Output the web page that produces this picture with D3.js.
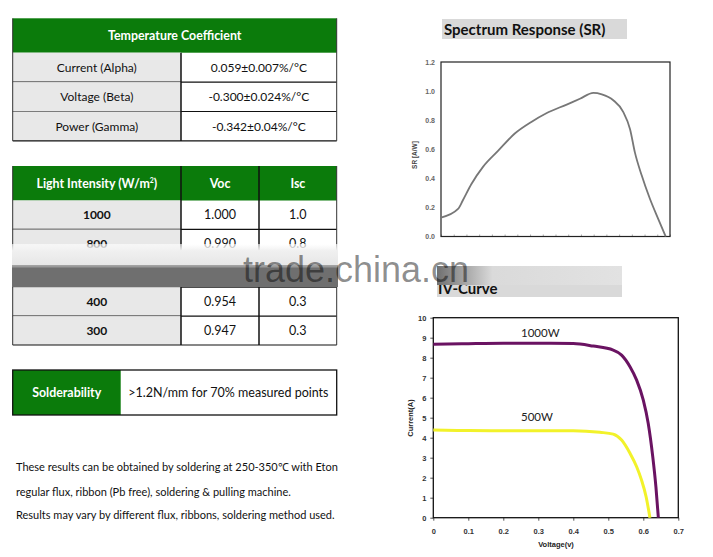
<!DOCTYPE html>
<html><head><meta charset="utf-8">
<script src="https://cdn.jsdelivr.net/npm/d3@7"></script>
<style>
html,body{margin:0;padding:0;background:#fff;}
svg{display:block;font-family:Lato, "Open Sans", sans-serif;}
</style></head>
<body>
<svg id="c" width="713" height="557"></svg>
<script>
// ---------- DATA ----------
const tcTitle = "Temperature Coefficient";
const tcNames = ["Current (Alpha)", "Voltage (Beta)", "Power (Gamma)"];
const tcValues = ["0.059±0.007%/°C", "-0.300±0.024%/°C", "-0.342±0.04%/°C"];

const liHeaders = ["Light Intensity (W/m", "Voc", "Isc"];
const liIntensity = ["1000", "800", "", "400", "300"];
const liVoc = ["1.000", "0.990", "", "0.954", "0.947"];
const liIsc = ["1.0", "0.8", "", "0.3", "0.3"];

const solderLabel = "Solderability";
const solderValue = ">1.2N/mm for 70% measured points";
const notes = [
  "These results can be obtained by soldering at 250-350\u2103 with Eton",
  "regular flux, ribbon (Pb free), soldering & pulling machine.",
  "Results may vary by different flux, ribbons, soldering method used."
];

const srTitle = "Spectrum Response (SR)";
const srWave = [300, 367, 386, 419, 465, 524, 590, 655, 714, 794, 846, 899, 932, 977, 1016, 1043, 1062, 1089, 1121, 1154, 1183];
const srValue = [0.13, 0.19, 0.25, 0.36, 0.48, 0.59, 0.71, 0.79, 0.85, 0.91, 0.95, 0.99, 0.98, 0.94, 0.86, 0.74, 0.58, 0.42, 0.26, 0.12, 0.0];
const srYTicks = [0, 0.2, 0.4, 0.6, 0.8, 1.0, 1.2];

const ivTitle = "IV-Curve";
const ivSeries = ["1000W", "500W"];
const v1000 = [0, 0.1, 0.2, 0.3, 0.4, 0.457, 0.514, 0.538, 0.562, 0.581, 0.600, 0.614, 0.627, 0.636, 0.643];
const i1000 = [8.67, 8.70, 8.72, 8.72, 8.71, 8.58, 8.38, 8.13, 7.55, 6.88, 5.88, 4.72, 3.05, 1.55, 0];
const v500 = [0, 0.1, 0.2, 0.3, 0.4, 0.476, 0.514, 0.538, 0.562, 0.581, 0.595, 0.608, 0.619];
const i500 = [4.38, 4.36, 4.35, 4.35, 4.35, 4.27, 4.18, 3.88, 3.22, 2.55, 1.88, 1.05, 0];
const ivXTicks = [0, 0.1, 0.2, 0.3, 0.4, 0.5, 0.6, 0.7];
const ivYTicks = [0, 1, 2, 3, 4, 5, 6, 7, 8, 9, 10];

const watermark = "trade.china.cn";

// ---------- DRAW ----------
const svg = d3.select("#c");
const GREEN = "#0b7b0b", LIGHT = "#e8e8e8";
const TL = 12.7, TR = 336.7;

// Table 1
{
  const top = 18.3, headH = 34.4, rowH = 29.4, split = 181;
  const g = svg.append("g");
  g.append("rect").attr("x", TL).attr("y", top).attr("width", TR - TL).attr("height", headH).attr("fill", GREEN);
  g.append("text").attr("x", (TL + TR) / 2).attr("y", top + headH / 2 + 4.5).attr("text-anchor", "middle")
    .attr("fill", "#fff").attr("font-weight", "bold").attr("font-size", 12.4).text(tcTitle);
  const y0 = top + headH;
  tcNames.forEach((n, i) => {
    const y = y0 + i * rowH;
    g.append("rect").attr("x", TL).attr("y", y).attr("width", split - TL).attr("height", rowH).attr("fill", LIGHT);
    g.append("text").attr("x", (TL + split) / 2).attr("y", y + rowH / 2 + 4.5).attr("text-anchor", "middle")
      .attr("font-size", 12).attr("fill", "#111").text(n);
    g.append("text").attr("x", (split + TR) / 2).attr("y", y + rowH / 2 + 4.5).attr("text-anchor", "middle")
      .attr("font-size", 12).attr("fill", "#111").text(tcValues[i]);
    g.append("line").attr("x1", TL).attr("x2", TR).attr("y1", y + rowH).attr("y2", y + rowH).attr("stroke", "#111").attr("stroke-width", 1.2);
  });
  const bot = y0 + tcNames.length * rowH;
  g.append("line").attr("x1", split).attr("x2", split).attr("y1", y0).attr("y2", bot).attr("stroke", "#111").attr("stroke-width", 1.5);
  g.append("line").attr("x1", TL).attr("x2", TL).attr("y1", top).attr("y2", bot).attr("stroke", "#333").attr("stroke-width", 1);
  g.append("line").attr("x1", TR).attr("x2", TR).attr("y1", top).attr("y2", bot).attr("stroke", "#333").attr("stroke-width", 1);
}

// Table 2
{
  const top = 166, headH = 34.5, rowH = 28.9, s1 = 181, s2 = 259;
  const g = svg.append("g");
  g.append("rect").attr("x", TL).attr("y", top).attr("width", TR - TL).attr("height", headH).attr("fill", GREEN);
  const hc = [(TL + s1) / 2, (s1 + s2) / 2, (s2 + TR) / 2];
  liHeaders.forEach((h, i) => {
    const t = g.append("text").attr("x", hc[i]).attr("y", top + headH / 2 + 4.5).attr("text-anchor", "middle")
      .attr("fill", "#fff").attr("font-weight", "bold").attr("font-size", 12.4).text(h);
    if (i === 0) { t.append("tspan").attr("font-size", 7).attr("dy", -5).text("2"); t.append("tspan").attr("dy", 5).text(")"); }
  });
  const y0 = top + headH;
  liIntensity.forEach((n, i) => {
    const y = y0 + i * rowH;
    g.append("rect").attr("x", TL).attr("y", y).attr("width", s1 - TL).attr("height", rowH).attr("fill", LIGHT);
    g.append("text").attr("x", hc[0]).attr("y", y + rowH / 2 + 4.5).attr("text-anchor", "middle")
      .attr("font-size", 12).attr("font-weight", "bold").attr("fill", "#111").text(n);
    g.append("text").attr("x", hc[1]).attr("y", y + rowH / 2 + 4.5).attr("text-anchor", "middle")
      .attr("font-size", 12.5).attr("fill", "#111").text(liVoc[i]);
    g.append("text").attr("x", hc[2]).attr("y", y + rowH / 2 + 4.5).attr("text-anchor", "middle")
      .attr("font-size", 12.5).attr("fill", "#111").text(liIsc[i]);
    g.append("line").attr("x1", TL).attr("x2", TR).attr("y1", y + rowH).attr("y2", y + rowH).attr("stroke", "#111").attr("stroke-width", 1.2);
  });
  const bot = y0 + liIntensity.length * rowH;
  [s1, s2].forEach(s => g.append("line").attr("x1", s).attr("x2", s).attr("y1", top).attr("y2", bot).attr("stroke", "#111").attr("stroke-width", 1.5));
  g.append("line").attr("x1", TL).attr("x2", TL).attr("y1", top).attr("y2", bot).attr("stroke", "#333");
  g.append("line").attr("x1", TR).attr("x2", TR).attr("y1", top).attr("y2", bot).attr("stroke", "#333");
}

// Solderability
{
  const top = 370, h = 45, split = 120.7;
  const g = svg.append("g");
  g.append("rect").attr("x", TL).attr("y", top).attr("width", split - TL).attr("height", h).attr("fill", GREEN);
  g.append("rect").attr("x", TL).attr("y", top).attr("width", TR - TL).attr("height", h).attr("fill", "none").attr("stroke", "#111").attr("stroke-width", 1.3);
  g.append("text").attr("x", (TL + split) / 2).attr("y", top + h / 2 + 4.5).attr("text-anchor", "middle")
    .attr("fill", "#fff").attr("font-weight", "bold").attr("font-size", 12.4).text(solderLabel);
  g.append("text").attr("x", 128.3).attr("y", top + h / 2 + 4.5).attr("font-size", 12.5).attr("fill", "#111").text(solderValue);
  const ny = [470.5, 495.5, 519];
  notes.forEach((t, i) => g.append("text").attr("x", 16).attr("y", ny[i]).attr("font-size", 11).attr("fill", "#111").text(t));
}

// SR chart
{
  const g = svg.append("g");
  g.append("rect").attr("x", 442).attr("y", 19).attr("width", 185).attr("height", 20).attr("fill", "#d9d9d9");
  g.append("text").attr("x", 444).attr("y", 35).attr("font-weight", "bold").attr("font-size", 15).attr("fill", "#111").text(srTitle);
  const x = d3.scaleLinear().domain([300, 1200]).range([441, 670]);
  const y = d3.scaleLinear().domain([0, 1.2]).range([236.5, 62.5]);
  const xa = g.append("g").attr("transform", "translate(0,236.5)")
    .call(d3.axisBottom(x).tickValues(d3.range(300, 1201, 50)).tickSize(-2).tickFormat(""));
  xa.select(".domain").remove();
  xa.selectAll("line").attr("stroke", "#aaa");
  const ya = g.append("g").attr("transform", "translate(441,0)")
    .call(d3.axisLeft(y).tickValues(srYTicks).tickSize(0).tickPadding(6).tickFormat(d3.format(".1f")));
  ya.select(".domain").remove();
  ya.selectAll("text").attr("font-size", 7).attr("font-weight", "bold").attr("fill", "#666").attr("font-family", "Liberation Sans, Arial, sans-serif");
  g.append("rect").attr("x", 441).attr("y", 62).attr("width", 229).attr("height", 174.5).attr("fill", "none").attr("stroke", "#222").attr("stroke-width", 1.2);
  g.append("text").attr("transform", "translate(417,155) rotate(-90)").attr("text-anchor", "middle")
    .attr("font-size", 6.5).attr("font-weight", "bold").attr("fill", "#444").attr("font-family", "Liberation Sans, Arial, sans-serif").text("SR [A/W]");
  const pts = srWave.map((w, i) => [w, srValue[i]]);
  g.append("path").datum(pts).attr("fill", "none").attr("stroke", "#777").attr("stroke-width", 1.8)
    .attr("d", d3.line().x(d => x(d[0])).y(d => y(d[1])).curve(d3.curveMonotoneX));
}

// IV chart
{
  const g = svg.append("g");
  g.append("rect").attr("x", 437).attr("y", 267).attr("width", 185).attr("height", 30).attr("fill", "#d9d9d9");
  g.append("text").attr("x", 438).attr("y", 294).attr("font-weight", "bold").attr("font-size", 15).attr("fill", "#111").text(ivTitle);
  const x = d3.scaleLinear().domain([0, 0.7]).range([433.3, 678.3]);
  const y = d3.scaleLinear().domain([0, 10]).range([517.7, 317.7]);
  const xa = g.append("g").attr("transform", "translate(0,517.7)")
    .call(d3.axisBottom(x).tickValues(ivXTicks).tickSize(3).tickPadding(8).tickFormat(d => d === 0 ? "0" : d3.format(".1f")(d)));
  xa.select(".domain").remove();
  const ya = g.append("g").attr("transform", "translate(433.3,0)")
    .call(d3.axisLeft(y).tickValues(ivYTicks).tickSize(3).tickPadding(4));
  ya.select(".domain").remove();
  [xa, ya].forEach(a => {
    a.selectAll("text").attr("font-size", 7.5).attr("font-weight", "bold").attr("fill", "#333").attr("font-family", "Liberation Sans, Arial, sans-serif");
    a.selectAll("line").attr("stroke", "#555");
  });
  g.append("rect").attr("x", 433.3).attr("y", 317.7).attr("width", 245).attr("height", 200).attr("fill", "none").attr("stroke", "#111").attr("stroke-width", 1.3);
  g.append("text").attr("x", 556).attr("y", 547).attr("text-anchor", "middle").attr("font-size", 7.5).attr("font-weight", "bold").attr("fill", "#222").attr("font-family", "Liberation Sans, Arial, sans-serif").text("Voltage(v)");
  g.append("text").attr("transform", "translate(413,418) rotate(-90)").attr("text-anchor", "middle").attr("font-size", 7.5).attr("font-weight", "bold").attr("fill", "#222").attr("font-family", "Liberation Sans, Arial, sans-serif").text("Current(A)");
  const line = d3.line().x(d => x(d[0])).y(d => y(d[1])).curve(d3.curveMonotoneX);
  g.append("path").datum(v500.map((v, i) => [v, i500[i]])).attr("fill", "none").attr("stroke", "#f2f22a").attr("stroke-width", 3).attr("d", line);
  g.append("path").datum(v1000.map((v, i) => [v, i1000[i]])).attr("fill", "none").attr("stroke", "#6a1362").attr("stroke-width", 3).attr("d", line);
  g.append("text").attr("x", 521).attr("y", 337).attr("font-size", 11.5).attr("fill", "#222").text(ivSeries[0]);
  g.append("text").attr("x", 521).attr("y", 421).attr("font-size", 11.5).attr("fill", "#222").text(ivSeries[1]);
}

// Watermark band
{
  const defs = svg.append("defs");
  const gv = defs.append("linearGradient").attr("id", "lightband").attr("x1", 0).attr("x2", 0).attr("y1", 0).attr("y2", 1);
  gv.append("stop").attr("offset", 0).attr("stop-color", "#fff").attr("stop-opacity", 0.6);
  gv.append("stop").attr("offset", 0.3).attr("stop-color", "#f0f0f0").attr("stop-opacity", 1);
  gv.append("stop").attr("offset", 1).attr("stop-color", "#e6e6e6").attr("stop-opacity", 1);
  const gh = defs.append("linearGradient").attr("id", "rband").attr("x1", 0).attr("x2", 1).attr("y1", 0).attr("y2", 0);
  gh.append("stop").attr("offset", 0).attr("stop-color", "#707070");
  gh.append("stop").attr("offset", 0.3).attr("stop-color", "#dadada");
  gh.append("stop").attr("offset", 1).attr("stop-color", "#e2e2e2");
  const g = svg.append("g");
  g.append("rect").attr("x", 12).attr("y", 244).attr("width", 326).attr("height", 22).attr("fill", "url(#lightband)");
  g.append("rect").attr("x", 12).attr("y", 265.5).attr("width", 326).attr("height", 21.5).attr("fill", "#6f6f6f");
  g.append("rect").attr("x", 12).attr("y", 265.5).attr("width", 326).attr("height", 2).attr("fill", "#9a9a9a");
  g.append("rect").attr("x", 437).attr("y", 266).attr("width", 185).attr("height", 19).attr("fill", "url(#rband)");
  g.append("text").attr("x", 243).attr("y", 282).attr("font-size", 36).attr("font-family", "Liberation Sans, Arial, sans-serif")
    .attr("fill", "#000").attr("fill-opacity", 0.45).text(watermark);
}
</script>
</body></html>
